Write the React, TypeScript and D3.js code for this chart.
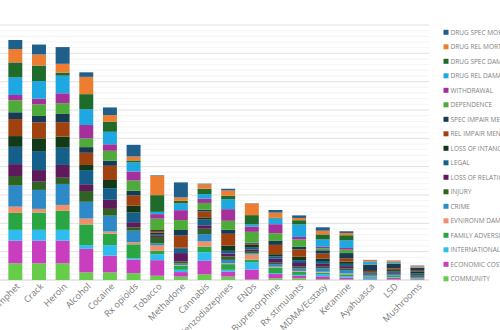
import React from "react";
import * as d3 from "d3";

const drugs = ["Methamphet", "Crack", "Heroin", "Alcohol", "Cocaine", "Rx opioids", "Tobacco", "Methadone", "Cannabis", "Benzodiazepines", "ENDs", "Buprenorphine", "Rx stimulants", "MDMA/Ecstasy", "Ketamine", "Ayahuasca", "LSD", "Mushrooms"];

const drugSpecMortality = [3.2, 3.5, 5.9, 1.6, 2.7, 4.1, 0.2, 5.3, 0.2, 0.6, 0.1, 0.9, 0.9, 1.2, 0.6, 0.2, 0.1, 0.1];
const drugRelMortality = [4.7, 3.9, 3.1, 6.1, 2.4, 1.4, 6.8, 1.2, 1.6, 1.9, 4.1, 1.8, 0.8, 1.3, 0.8, 0.5, 0.4, 0.3];
const drugSpecDamage = [5.3, 5.5, 1.1, 5.3, 3.5, 0.7, 5.9, 0.9, 1.9, 1.2, 3.3, 0.3, 1.5, 1.8, 1.8, 0.1, 0.1, 0.2];
const drugRelDamage = [6.2, 6.2, 6.2, 5.6, 4.4, 3.2, 0.8, 2.4, 1.6, 3.5, 0.8, 2.0, 4.4, 2.6, 2.7, 0.7, 0.3, 0.1];
const withdrawal = [1.9, 2.0, 3.5, 4.7, 2.3, 3.2, 1.6, 3.5, 1.5, 4.1, 1.8, 3.2, 0.9, 0.5, 0.6, 0.1, 0.1, 0.1];
const dependence = [4.2, 4.1, 3.8, 3.1, 3.5, 3.6, 4.0, 3.5, 2.4, 3.2, 3.8, 2.7, 2.6, 0.7, 1.2, 0.1, 0.2, 0.1];
const specImpairMental = [2.4, 2.3, 2.9, 2.0, 1.8, 1.7, 0.35, 2.0, 0.6, 1.4, 0.4, 1.4, 0.9, 1.2, 1.8, 2.2, 1.6, 1.0];
const relImpairMental = [6.0, 5.6, 5.1, 4.3, 5.0, 3.6, 0.6, 4.2, 2.1, 4.2, 0.4, 3.3, 2.6, 1.7, 1.2, 0.5, 0.6, 0.4];
const lossIntangibles = [3.8, 4.5, 3.9, 1.8, 2.9, 2.4, 0.5, 0.35, 0.8, 1.8, 0.8, 0.8, 1.2, 0.9, 0.8, 0.3, 0.4, 0.6];
const legal = [6.1, 6.7, 6.1, 5.0, 4.1, 3.4, 0.4, 1.6, 2.0, 1.0, 0.8, 0.8, 1.0, 1.0, 0.8, 0.3, 0.6, 0.6];
const lossRelationships = [4.2, 4.1, 4.5, 2.4, 3.2, 1.8, 0.6, 3.0, 1.2, 1.0, 0.6, 1.4, 1.3, 1.0, 0.8, 0.2, 0.3, 0.3];
const injury = [3.4, 2.9, 2.2, 3.8, 2.4, 1.2, 2.3, 0.7, 1.9, 1.2, 0.8, 0.5, 0.6, 0.6, 0.6, 0.2, 0.3, 0.4];
const crime = [7.4, 6.7, 7.4, 5.9, 5.6, 4.1, 0.7, 0.5, 2.6, 1.2, 0.4, 0.9, 0.9, 1.2, 1.2, 0.5, 0.4, 0.3];
const environmental = [2.2, 1.3, 2.1, 2.1, 0.7, 0.7, 1.9, 0.2, 1.8, 0.3, 1.8, 0.3, 0.3, 0.3, 0.3, 0.1, 0.1, 0.05];
const family = [6.0, 6.1, 6.7, 7.3, 4.1, 4.9, 1.2, 1.5, 2.0, 2.0, 0.9, 2.0, 1.1, 0.5, 0.6, 0.3, 0.4, 0.2];
const international = [3.8, 3.8, 3.8, 1.3, 3.7, 0.5, 2.1, 0.8, 3.0, 0.6, 2.6, 0.3, 0.3, 0.8, 0.5, 0.5, 0.2, 0.1];
const economic = [8.0, 8.0, 8.0, 8.3, 5.9, 4.8, 5.5, 1.6, 4.8, 1.8, 3.5, 1.5, 0.9, 1.0, 0.7, 0.2, 0.6, 0.2];
const community = [5.9, 5.9, 5.9, 2.7, 2.7, 2.4, 1.5, 1.2, 2.0, 1.2, 0.2, 0.6, 0.6, 0.3, 0.2, 0.1, 0.2, 0.1];

// legend order (top of legend = top of stack)
const seriesNames = ["DRUG SPEC MORTALITY", "DRUG REL MORTALITY", "DRUG SPEC DAMAGE", "DRUG REL DAMAGE", "WITHDRAWAL", "DEPENDENCE", "SPEC IMPAIR MENTAL FUNCTIONING", "REL IMPAIR MENTAL FUNCTIONING", "LOSS OF INTANGIBLES", "LEGAL", "LOSS OF RELATIONSHIPS", "INJURY", "CRIME", "EVNIRONM DAMAGE", "FAMILY ADVERSITIES", "INTERNATIONAL DAMAGE", "ECONOMIC COST", "COMMUNITY"];
const seriesValues = [drugSpecMortality, drugRelMortality, drugSpecDamage, drugRelDamage, withdrawal, dependence, specImpairMental, relImpairMental, lossIntangibles, legal, lossRelationships, injury, crime, environmental, family, international, economic, community];
const seriesColors = ["#1f5f8b", "#ed7d31", "#1f6b2b", "#1ea7e0", "#a5309c", "#4eab3a", "#173a55", "#a0420f", "#123a18", "#15608a", "#5e1a5b", "#2f6323", "#2e8ac6", "#f0906a", "#2aa544", "#2fbdf0", "#c93dbf", "#66cc4a"];

const yMax = 90;
const majorTicks = d3.range(10, 91, 10);
const minorTicks = d3.range(2, 90, 2).filter((v) => v % 10 !== 0);

export default function App() {
  const W = 500, H = 330;
  const baseY = 280, topY = 25;
  const y = d3.scaleLinear().domain([0, yMax]).range([baseY, topY]);
  const x = d3.scaleBand<string>().domain(drugs).range([3.5, 429.2]).paddingInner(0.41).paddingOuter(0.205);

  const keys = [...seriesNames].reverse();
  const rows = drugs.map((d, i) => {
    const r: any = { drug: d };
    seriesNames.forEach((s, k) => { r[s] = seriesValues[k][i]; });
    return r;
  });
  const stacked = d3.stack<any>().keys(keys)(rows);
  const colorOf = (name: string) => seriesColors[seriesNames.indexOf(name)];

  return (
    <svg width={W} height={H} style={{ position: "absolute", left: 0, top: 0, background: "#fff" }} fontFamily="'Open Sans', 'Liberation Sans', sans-serif">
      <rect x={0} y={0} width={W} height={H} fill="#fff" />
      {minorTicks.map((t) => (
        <line key={"mi" + t} x1={0} x2={429} y1={y(t)} y2={y(t)} stroke="#f0f0f0" strokeWidth={0.8} />
      ))}
      {majorTicks.map((t) => (
        <line key={"ma" + t} x1={0} x2={429} y1={y(t)} y2={y(t)} stroke="#dedede" strokeWidth={0.9} />
      ))}
      <line x1={0} x2={429} y1={baseY} y2={baseY} stroke="#d0d0d0" strokeWidth={1} />
      {stacked.map((layer) => (
        <g key={layer.key} fill={colorOf(layer.key)}>
          {layer.map((seg, i) => (
            <rect key={i} x={x(drugs[i])} width={x.bandwidth()} y={y(seg[1])} height={Math.max(0, y(seg[0]) - y(seg[1]))} />
          ))}
        </g>
      ))}
      {drugs.map((d) => {
        const cx = (x(d) as number) + x.bandwidth() / 2;
        return (
          <text key={d} transform={`translate(${cx + 5},${287}) rotate(-45)`} textAnchor="end" fontSize={9} fill="#7a7a7a">
            {d}
          </text>
        );
      })}
      {seriesNames.map((s, i) => {
        const cy = 32.3 + i * 14.5;
        return (
          <g key={s}>
            <rect x={443.5} y={cy - 2.5} width={5} height={5} fill={seriesColors[i]} />
            <text x={450.5} y={cy} dominantBaseline="central" fontSize={6.5} fill="#7f7f7f">{s}</text>
          </g>
        );
      })}
    </svg>
  );
}
